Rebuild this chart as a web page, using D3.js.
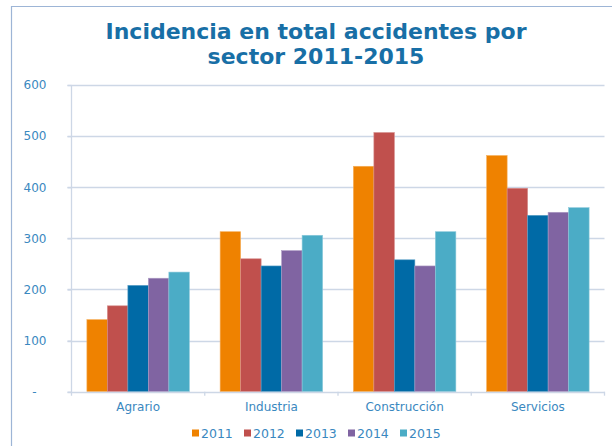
<!DOCTYPE html>
<html>
<head>
<meta charset="utf-8">
<script src="https://cdn.jsdelivr.net/npm/d3@7"></script>
<style>
  html, body { margin: 0; padding: 0; background: #fff; }
  svg { display: block; font-family: "DejaVu Sans", Verdana, sans-serif; }
</style>
</head>
<body>
<div id="chart"></div>
<script>
const categories = ["Agrario", "Industria", "Construcción", "Servicios"];
const years = ["2011", "2012", "2013", "2014", "2015"];
const yearColors = ["#ef8200", "#c0504d", "#006aa6", "#8064a2", "#4bacc6"];
// one row per sector, one value per year
const values = [
  [141, 168, 208, 222, 234],
  [313, 260, 246, 276, 306],
  [441, 507, 258, 246, 313],
  [462, 398, 345, 351, 360]
];
const yTicks = [0, 100, 200, 300, 400, 500, 600];

const W = 612, H = 446;
const plot = { left: 71.5, right: 604.5, top: 85, bottom: 391.7 };
const textBlue = "#3a88c0";
const gridColor = "#cdd7e6";

const svg = d3.select("#chart").append("svg")
  .attr("width", W).attr("height", H).attr("viewBox", `0 0 ${W} ${H}`);

/* frame */
svg.append("path")
  .attr("d", `M11.5,${H} V6.5 H${W}`)
  .attr("fill", "none").attr("stroke", "#9db5d6").attr("stroke-width", 1.2);

/* title */
const title = svg.append("text")
  .attr("text-anchor", "middle")
  .attr("fill", "#186fa6").attr("font-size", 22).attr("font-weight", "bold");
title.append("tspan").attr("x", 316).attr("y", 38.5).text("Incidencia en total accidentes por");
title.append("tspan").attr("x", 316).attr("y", 64).text("sector 2011-2015");

const y = d3.scaleLinear().domain([0, 600]).range([plot.bottom, plot.top]);
const x0 = d3.scaleBand().domain(categories).range([plot.left, plot.right])
  .paddingInner(0.231).paddingOuter(0.1155);
const x1 = d3.scaleBand().domain(years).range([0, x0.bandwidth()]);

/* gridlines */
svg.append("g").selectAll("line").data(yTicks.slice(1)).join("line")
  .attr("x1", plot.left - 4).attr("x2", plot.right)
  .attr("y1", d => Math.round(y(d)) + 0.5).attr("y2", d => Math.round(y(d)) + 0.5)
  .attr("stroke", gridColor).attr("stroke-width", 1.3);

/* y axis (zero shown as "-" like an accounting format) */
const yAxis = svg.append("g").attr("transform", `translate(${plot.left},0)`)
  .call(d3.axisLeft(y).tickValues(yTicks).tickSize(4).tickPadding(21)
    .tickFormat(d => d === 0 ? "-" : d));
yAxis.select(".domain").remove();
yAxis.selectAll(".tick line").attr("stroke", gridColor).attr("stroke-width", 1.3);
yAxis.selectAll(".tick text").attr("fill", textBlue).attr("font-size", 12)
  .attr("font-family", "DejaVu Sans, Verdana, sans-serif")
  .attr("dx", d => d === 0 ? -10 : 0);
svg.append("line")
  .attr("x1", plot.left).attr("x2", plot.left)
  .attr("y1", plot.top).attr("y2", plot.bottom + 4)
  .attr("stroke", gridColor).attr("stroke-width", 1.3);

/* bars */
const groups = svg.append("g").selectAll("g").data(categories).join("g")
  .attr("transform", d => `translate(${x0(d)},0)`);
groups.selectAll("rect").data((d, i) => values[i].map((v, j) => ({ year: years[j], v, c: yearColors[j] })))
  .join("rect")
  .attr("x", d => x1(d.year)).attr("width", x1.bandwidth())
  .attr("y", d => y(d.v)).attr("height", d => y(0) - y(d.v))
  .attr("fill", d => d.c)
  .attr("stroke", d => d3.interpolateRgb(d.c, "#fff")(0.35)).attr("stroke-width", 0.6);

/* x axis */
const xAxis = svg.append("g").attr("transform", `translate(0,${plot.bottom})`)
  .call(d3.axisBottom(x0).tickSize(0).tickPadding(11));
xAxis.select(".domain").remove();
xAxis.selectAll(".tick text").attr("fill", textBlue).attr("font-size", 12)
  .attr("font-family", "DejaVu Sans, Verdana, sans-serif");
svg.append("line")
  .attr("x1", plot.left - 4).attr("x2", plot.right)
  .attr("y1", Math.round(plot.bottom) + 0.5).attr("y2", Math.round(plot.bottom) + 0.5)
  .attr("stroke", gridColor).attr("stroke-width", 1.3);
const step = x0.step();
svg.append("g").selectAll("line").data(d3.range(1, categories.length + 1)).join("line")
  .attr("x1", d => plot.left + d * step).attr("x2", d => plot.left + d * step)
  .attr("y1", plot.bottom).attr("y2", plot.bottom + 4)
  .attr("stroke", gridColor).attr("stroke-width", 1.3);

/* legend */
const legend = svg.append("g").attr("transform", "translate(192,433)");
const item = legend.selectAll("g").data(years).join("g")
  .attr("transform", (d, i) => `translate(${i * 52},0)`);
item.append("rect").attr("x", 0).attr("y", -3.5).attr("width", 7).attr("height", 7)
  .attr("fill", (d, i) => yearColors[i]);
item.append("text").attr("x", 9).attr("y", 0).attr("dy", "0.36em")
  .attr("fill", textBlue).attr("font-size", 12.5).text(d => d);
</script>
</body>
</html>
